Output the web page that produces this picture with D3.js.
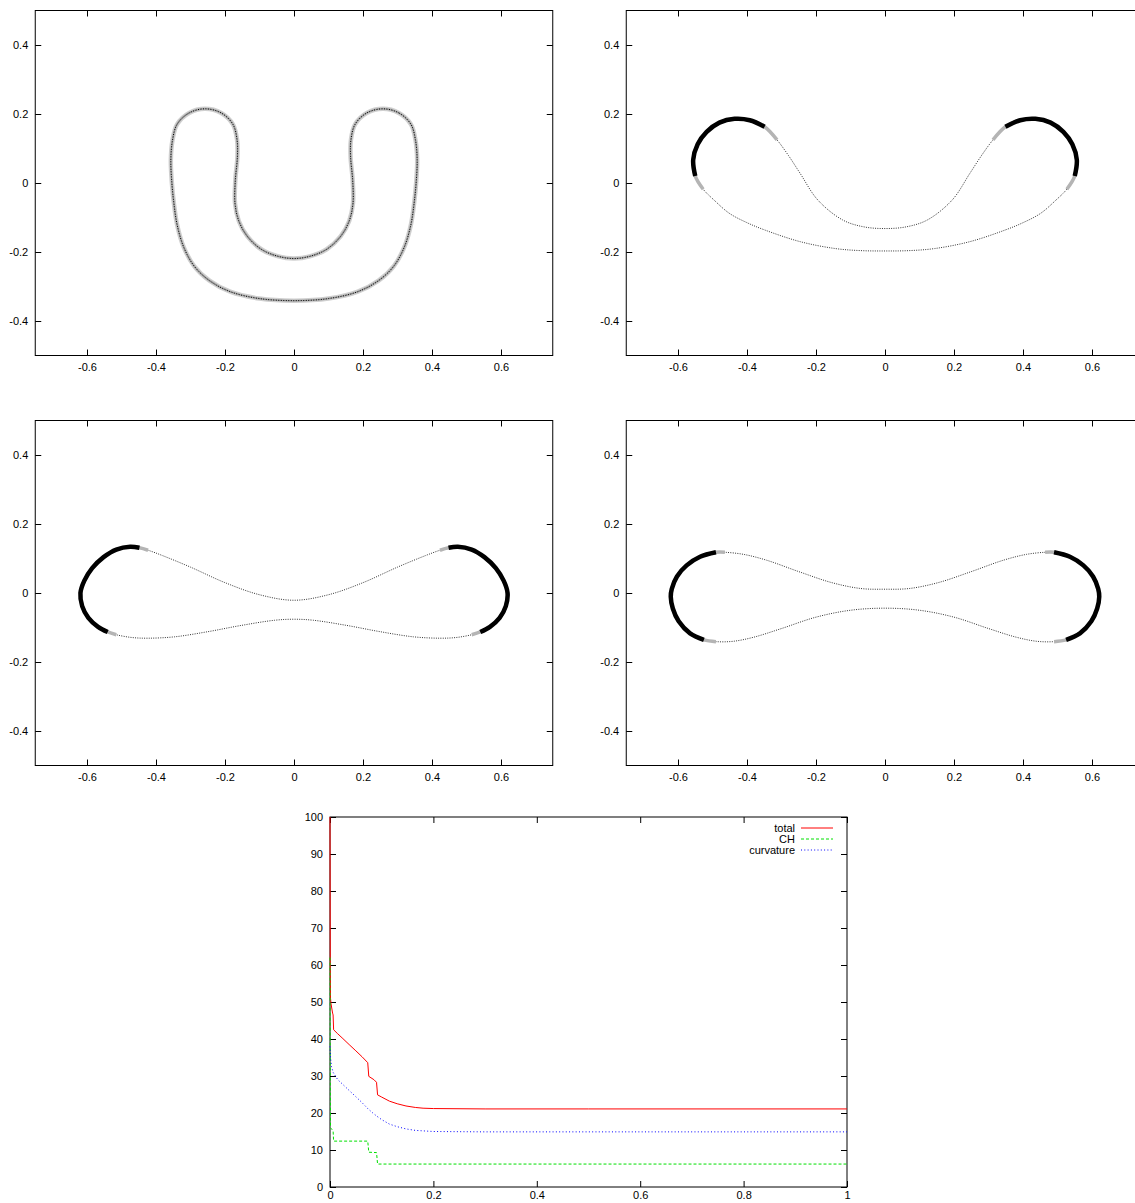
<!DOCTYPE html>
<html lang="en">
<head>
<meta charset="UTF-8">
<title>Interface shapes and energy</title>
<script src="https://cdn.jsdelivr.net/npm/d3@7/dist/d3.min.js"></script>
<style>
  body { margin: 0; background: #fff; }
  text { font-family: "Liberation Sans", Arial, sans-serif; font-size: 11px; fill: #000; }
</style>
</head>
<body>
<script>
// contour points [x, y] (panel 1) and [x, y, w] (w: 1 thick, 0.5 fading, 0 thin)
let shapeU = [
  [0.258, 0.215], [0.304, 0.203], [0.339, 0.170], [0.352, 0.125], [0.357, 0.067], [0.354, 0.0],
  [0.348, -0.06], [0.339, -0.12], [0.320, -0.185], [0.290, -0.240], [0.245, -0.283], [0.185, -0.315],
  [0.100, -0.335], [0, -0.341], [-0.100, -0.335], [-0.185, -0.315], [-0.245, -0.283], [-0.290, -0.240],
  [-0.320, -0.185], [-0.339, -0.12], [-0.348, -0.06], [-0.354, 0.0], [-0.357, 0.067], [-0.352, 0.125],
  [-0.339, 0.170], [-0.304, 0.203], [-0.258, 0.215], [-0.211, 0.203], [-0.177, 0.170], [-0.165, 0.125],
  [-0.164, 0.076], [-0.170, 0.009], [-0.171, -0.059], [-0.160, -0.110], [-0.135, -0.155], [-0.095, -0.192],
  [-0.048, -0.212], [0, -0.219], [0.048, -0.212], [0.095, -0.192], [0.135, -0.155], [0.160, -0.110],
  [0.171, -0.059], [0.170, 0.009], [0.164, 0.076], [0.165, 0.125], [0.177, 0.170], [0.211, 0.203]
];

let shapeB = [
  [0.313, 0.125, 0.5], [0.349, 0.163, 1], [0.392, 0.182, 1], [0.436, 0.186, 1], [0.480, 0.175, 1],
  [0.517, 0.148, 1], [0.543, 0.112, 1], [0.556, 0.067, 1], [0.550, 0.020, 1], [0.527, -0.018, 0.5],
  [0.495, -0.050, 0], [0.451, -0.088, 0], [0.400, -0.115, 0], [0.349, -0.136, 0], [0.246, -0.170, 0],
  [0.144, -0.190, 0], [0.070, -0.196, 0], [0, -0.197, 0], [-0.070, -0.196, 0], [-0.144, -0.190, 0],
  [-0.246, -0.170, 0], [-0.349, -0.136, 0], [-0.400, -0.115, 0], [-0.451, -0.088, 0], [-0.495, -0.050, 0],
  [-0.527, -0.018, 0.5], [-0.550, 0.020, 1], [-0.556, 0.067, 1], [-0.543, 0.112, 1], [-0.517, 0.148, 1],
  [-0.480, 0.175, 1], [-0.436, 0.186, 1], [-0.392, 0.182, 1], [-0.349, 0.163, 1], [-0.313, 0.125, 0.5],
  [-0.280, 0.080, 0], [-0.246, 0.028, 0], [-0.195, -0.049, 0], [-0.123, -0.107, 0], [-0.062, -0.127, 0],
  [0, -0.132, 0], [0.062, -0.127, 0], [0.123, -0.107, 0], [0.195, -0.049, 0], [0.246, 0.028, 0],
  [0.280, 0.080, 0]
];

let shapeC = [
  [0.423, 0.124, 0.5], [0.448, 0.131, 1], [0.475, 0.134, 1], [0.515, 0.126, 1], [0.552, 0.104, 1],
  [0.585, 0.072, 1], [0.608, 0.035, 1], [0.619, 0.0, 1], [0.614, -0.038, 1], [0.596, -0.072, 1],
  [0.568, -0.098, 1], [0.540, -0.113, 1], [0.515, -0.121, 0.5],
  [0.470, -0.129, 0], [0.423, -0.131, 0], [0.346, -0.127, 0], [0.249, -0.112, 0], [0.153, -0.094, 0],
  [0.056, -0.079, 0], [0, -0.076, 0], [-0.056, -0.079, 0], [-0.153, -0.094, 0], [-0.249, -0.112, 0],
  [-0.346, -0.127, 0], [-0.423, -0.131, 0], [-0.470, -0.129, 0],
  [-0.515, -0.121, 0.5], [-0.540, -0.113, 1], [-0.568, -0.098, 1], [-0.596, -0.072, 1], [-0.614, -0.038, 1],
  [-0.619, 0.0, 1], [-0.608, 0.035, 1], [-0.585, 0.072, 1], [-0.552, 0.104, 1], [-0.515, 0.126, 1],
  [-0.475, 0.134, 1], [-0.448, 0.131, 1], [-0.423, 0.124, 0.5],
  [-0.380, 0.108, 0], [-0.300, 0.075, 0], [-0.200, 0.030, 0], [-0.100, -0.005, 0],
  [0, -0.021, 0], [0.100, -0.005, 0], [0.200, 0.030, 0], [0.300, 0.075, 0],
  [0.380, 0.108, 0]
];

let shapeD = [
  [0.464, 0.118, 0.5], [0.490, 0.118, 1], [0.536, 0.105, 1], [0.575, 0.080, 1], [0.603, 0.048, 1],
  [0.618, 0.012, 1], [0.621, -0.011, 1], [0.615, -0.045, 1], [0.598, -0.082, 1], [0.565, -0.117, 1],
  [0.525, -0.136, 1], [0.490, -0.141, 0.5],
  [0.440, -0.140, 0], [0.380, -0.128, 0], [0.300, -0.103, 0], [0.200, -0.070, 0], [0.100, -0.050, 0],
  [0, -0.044, 0], [-0.100, -0.050, 0], [-0.200, -0.070, 0], [-0.300, -0.103, 0], [-0.380, -0.128, 0],
  [-0.440, -0.140, 0],
  [-0.490, -0.141, 0.5], [-0.525, -0.136, 1], [-0.565, -0.117, 1], [-0.598, -0.082, 1], [-0.615, -0.045, 1],
  [-0.621, -0.011, 1], [-0.618, 0.012, 1], [-0.603, 0.048, 1], [-0.575, 0.080, 1], [-0.536, 0.105, 1],
  [-0.490, 0.118, 1], [-0.464, 0.118, 0.5],
  [-0.410, 0.112, 0], [-0.343, 0.095, 0], [-0.250, 0.062, 0], [-0.154, 0.030, 0], [-0.070, 0.013, 0],
  [0, 0.011, 0], [0.070, 0.013, 0], [0.154, 0.030, 0], [0.250, 0.062, 0], [0.343, 0.095, 0],
  [0.410, 0.112, 0]
];

let shapeXTicks = [-0.6, -0.4, -0.2, 0, 0.2, 0.4, 0.6];
let shapeYTicks = [-0.4, -0.2, 0, 0.2, 0.4];

// energy curves [t, value]
let totalEnergy = [
  [0, 100], [0.0005, 60], [0.001, 51], [0.002, 49.5], [0.005, 47], [0.006, 46.5], [0.007, 42.5],
  [0.015, 41.4], [0.025, 40.1], [0.037, 38.5], [0.05, 36.8], [0.062, 35.2], [0.073, 33.6], [0.075, 29.9],
  [0.085, 29], [0.09, 28.3], [0.092, 24.9], [0.1, 24.3], [0.115, 23.2], [0.13, 22.5], [0.147, 21.9],
  [0.165, 21.5], [0.18, 21.3], [0.2, 21.2], [0.3, 21.1], [0.5, 21.1], [1, 21.1]
];
let chEnergy = [
  [0, 62], [0.0005, 30], [0.001, 16], [0.004, 15.5], [0.006, 15.2], [0.007, 12.4], [0.073, 12.4],
  [0.075, 9.4], [0.09, 9.3], [0.092, 6.2], [1, 6.2]
];
let curvEnergy = [
  [0, 38], [0.001, 35], [0.003, 32.5], [0.006, 31], [0.015, 29.0], [0.025, 27.7], [0.037, 26.1],
  [0.05, 24.4], [0.062, 22.8], [0.073, 21.2], [0.082, 20.1], [0.09, 19.2], [0.1, 18.2], [0.115, 17.0],
  [0.13, 16.3], [0.147, 15.7], [0.165, 15.3], [0.2, 15.0], [0.3, 14.9], [1, 14.9]
];
let energyXTicks = [0, 0.2, 0.4, 0.6, 0.8, 1];
let energyYTicks = [0, 10, 20, 30, 40, 50, 60, 70, 80, 90, 100];
let legendNames = ['total', 'CH', 'curvature'];

let width = 1135, height = 1203, tick = 6;
let svg = d3.select('body').append('svg').attr('width', width).attr('height', height);
let fmt = d => String(+d.toFixed(1));

function frameAxes(g, x, y, xt, yt, w, h, xpad) {
  g.append('g').attr('transform', `translate(0,${h})`)
    .call(d3.axisBottom(x).tickValues(xt).tickSize(-tick).tickSizeOuter(0).tickPadding(xpad).tickFormat(fmt));
  g.append('g')
    .call(d3.axisTop(x).tickValues(xt).tickSize(-tick).tickSizeOuter(0).tickFormat(''));
  g.append('g')
    .call(d3.axisLeft(y).tickValues(yt).tickSize(-tick).tickSizeOuter(0).tickPadding(7).tickFormat(fmt));
  g.append('g').attr('transform', `translate(${w},0)`)
    .call(d3.axisRight(y).tickValues(yt).tickSize(-tick).tickSizeOuter(0).tickFormat(''));
  g.selectAll('.domain').remove();
  g.selectAll('.tick line').attr('stroke', '#000');
  g.selectAll('.tick text').attr('fill', '#000');
  g.append('rect').attr('width', w).attr('height', h)
    .attr('fill', 'none').attr('stroke', '#000').attr('stroke-width', 1);
}

// split closed contour into runs of points with w >= thr
function runs(pts, thr) {
  let n = pts.length;
  let start = pts.findIndex(p => p[2] < thr);
  if (start < 0) return [pts];
  let out = [], cur = [];
  for (let k = 1; k <= n; k++) {
    let p = pts[(start + k) % n];
    if (p[2] >= thr) cur.push(p);
    else if (cur.length) { out.push(cur); cur = []; }
  }
  if (cur.length) out.push(cur);
  return out;
}

let pw = 517.5, ph = 345;
let panels = [
  { left: 35.25, top: 10.5, shape: shapeU, band: true },
  { left: 626.25, top: 10.5, shape: shapeB },
  { left: 35.25, top: 420.5, shape: shapeC },
  { left: 626.25, top: 420.5, shape: shapeD }
];

panels.forEach(p => {
  let g = svg.append('g').attr('transform', `translate(${p.left},${p.top})`);
  let x = d3.scaleLinear().domain([-0.75, 0.75]).range([0, pw]);
  let y = d3.scaleLinear().domain([-0.5, 0.5]).range([ph, 0]);
  frameAxes(g, x, y, shapeXTicks, shapeYTicks, pw, ph, 8);

  let closed = d3.line().x(d => x(d[0])).y(d => y(d[1])).curve(d3.curveCatmullRomClosed.alpha(0.5));
  let open = d3.line().x(d => x(d[0])).y(d => y(d[1])).curve(d3.curveCatmullRom.alpha(0.5));

  if (p.band) {
    g.append('path').attr('d', closed(p.shape)).attr('fill', 'none')
      .attr('stroke', '#d0d0d0').attr('stroke-width', 4.5);
    g.append('path').attr('d', closed(p.shape)).attr('fill', 'none')
      .attr('stroke', '#a8a8a8').attr('stroke-width', 2);
    g.append('path').attr('d', closed(p.shape)).attr('fill', 'none')
      .attr('stroke', '#000').attr('stroke-width', 1).attr('stroke-dasharray', '1,1.5');
  } else {
    g.append('path').attr('d', closed(p.shape)).attr('fill', 'none')
      .attr('stroke', '#333').attr('stroke-width', 1).attr('stroke-dasharray', '1,1.3');
    runs(p.shape, 0.5).forEach(r => {
      g.append('path').attr('d', open(r)).attr('fill', 'none')
        .attr('stroke', '#b4b4b4').attr('stroke-width', 3.5);
    });
    runs(p.shape, 1).forEach(r => {
      g.append('path').attr('d', open(r)).attr('fill', 'none')
        .attr('stroke', '#000').attr('stroke-width', 4.5);
    });
  }
});

// energy chart
let ew = 517, eh = 370;
let eg = svg.append('g').attr('transform', 'translate(330,817)');
let ex = d3.scaleLinear().domain([0, 1]).range([0, ew]);
let ey = d3.scaleLinear().domain([0, 100]).range([eh, 0]);
frameAxes(eg, ex, ey, energyXTicks, energyYTicks, ew, eh, 4);

let series = [
  { data: totalEnergy, color: '#ff0000', dash: null },
  { data: chEnergy, color: '#00e000', dash: '3,2' },
  { data: curvEnergy, color: '#0000ff', dash: '1,2.3' }
];
let eline = d3.line().x(d => ex(d[0])).y(d => ey(d[1]));
series.forEach(s => {
  eg.append('path').attr('d', eline(s.data)).attr('fill', 'none')
    .attr('stroke', s.color).attr('stroke-width', 1)
    .attr('stroke-dasharray', s.dash);
});

let lg = eg.append('g');
legendNames.forEach((name, i) => {
  let ly = 11 + i * 11;
  lg.append('text').attr('x', 465).attr('y', ly).attr('dy', '0.35em')
    .attr('text-anchor', 'end').text(name);
  lg.append('line').attr('x1', 471).attr('x2', 503).attr('y1', ly).attr('y2', ly)
    .attr('stroke', series[i].color).attr('stroke-width', 1)
    .attr('stroke-dasharray', series[i].dash);
});
</script>
</body>
</html>
